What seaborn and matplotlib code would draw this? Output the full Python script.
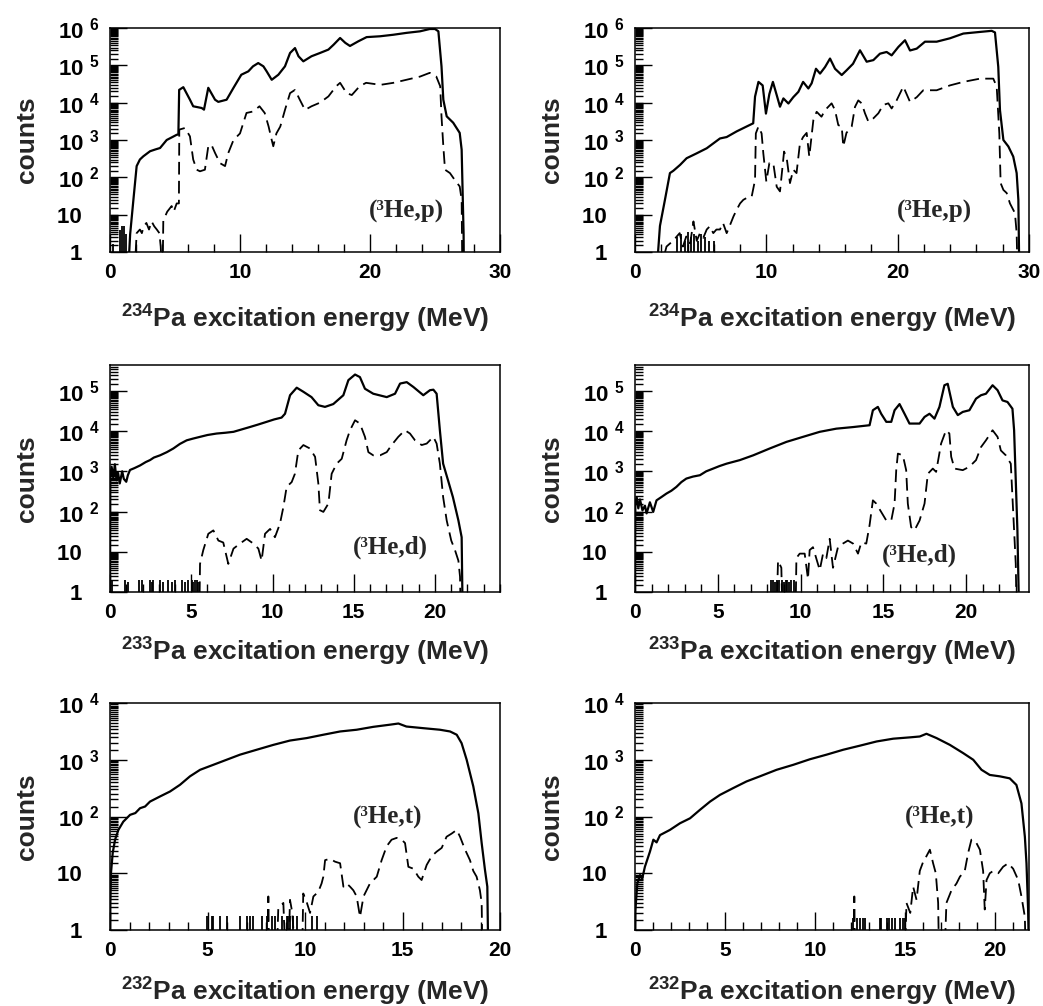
import numpy as np
import matplotlib
matplotlib.use("Agg")
import matplotlib.pyplot as plt
import seaborn as sns
from matplotlib.ticker import FixedLocator, FuncFormatter, MultipleLocator, NullFormatter

# ---------------- data (E in MeV, counts) ----------------
p1_solid = [(1.40, 0.3), (1.55, 3), (1.8, 25), (2.05, 200), (2.3, 300), (2.56, 365), (3.08, 500), (3.5, 560),
            (3.85, 610), (4.36, 1000), (4.8, 1200), (5.13, 1380), (5.26, 1400), (5.32, 22000), (5.64, 26000),
            (6.15, 12000), (6.4, 8000), (7.05, 7200), (7.23, 6500), (7.56, 25000), (8.08, 12000), (8.33, 10500),
            (8.97, 12000), (9.5, 25000), (10.1, 56000), (10.64, 69000), (11.0, 94000), (11.4, 115000),
            (11.8, 94000), (12.05, 69000), (12.44, 41000), (12.95, 56000), (13.46, 94000), (13.85, 214000),
            (14.23, 290000), (14.5, 175000), (14.87, 128000), (15.5, 175000), (16.15, 214000), (16.8, 264000),
            (17.2, 357000), (17.7, 540000), (18.1, 400000), (18.46, 330000), (19.1, 440000), (19.74, 570000),
            (20.77, 600000), (21.8, 660000), (22.8, 740000), (23.85, 815000), (24.6, 940000), (25.0, 940000),
            (25.26, 815000), (25.5, 94000), (25.64, 12000), (25.9, 4300), (26.4, 2900), (26.9, 1550),
            (27.05, 550), (27.2, 3), (27.22, 0.3)]
p1_dash_a = [(1.9, 0.3), (2.05, 3.2), (2.3, 4), (2.45, 3.2), (2.6, 4.9), (2.8, 6), (3.0, 4), (3.2, 6.6),
             (3.4, 4.9), (3.6, 4), (3.8, 3.2), (3.9, 1.4), (4.0, 0.3)]
p1_dash_b = [(4.05, 0.3), (4.1, 7), (4.4, 12), (4.74, 17), (4.9, 12), (5.13, 20), (5.3, 20), (5.33, 1900),
             (5.77, 2100), (6.15, 1250), (6.4, 300), (6.67, 160), (6.92, 145), (7.3, 160), (7.56, 680),
             (7.8, 750), (8.08, 450), (8.46, 240), (8.85, 200), (9.1, 450), (9.5, 1000), (10.0, 1500),
             (10.5, 5300), (11.0, 5800), (11.5, 8000), (11.9, 5300), (12.2, 2300), (12.44, 1000), (12.56, 680),
             (12.8, 1500), (13.1, 2300), (13.46, 6400), (13.85, 18000), (14.23, 22000), (14.6, 12000),
             (15.0, 6400), (15.5, 8000), (16.15, 10000), (16.8, 14700), (17.4, 27500), (17.7, 34000),
             (18.2, 18000), (18.6, 16000), (19.2, 27500), (19.7, 34000), (20.8, 30000), (21.8, 34000),
             (22.8, 41000), (23.85, 50000), (24.6, 63000), (25.1, 50000), (25.4, 27500), (25.5, 4300),
             (25.64, 680), (25.77, 160), (26.15, 130), (26.5, 87), (26.9, 57), (27.05, 25), (27.1, 0.3)]
p1_spikes = [(0.25, 1.6), (0.8, 4), (0.95, 5), (1.1, 5), (1.25, 3)]

p2_solid = [(1.65, 0.3), (1.9, 5), (2.28, 25), (2.66, 130), (2.92, 150), (3.43, 215), (3.93, 325), (4.7, 440),
            (5.46, 600), (5.96, 810), (6.47, 1100), (6.98, 1200), (7.74, 1700), (8.5, 2300), (9.0, 2800),
            (9.14, 14500), (9.4, 36000), (9.72, 29000), (9.97, 5100), (10.23, 17000), (10.5, 36000),
            (10.8, 15500), (11.04, 7800), (11.3, 13000), (11.68, 9500), (12.05, 14000), (12.44, 19500),
            (12.8, 36000), (13.2, 24000), (13.45, 33000), (13.78, 81000), (14.09, 60000), (14.47, 90000),
            (14.85, 152000), (15.23, 81000), (15.74, 55000), (16.1, 73000), (16.6, 110000), (17.13, 253000),
            (17.64, 125000), (18.15, 138000), (18.65, 205000), (19.16, 228000), (19.54, 185000),
            (20.05, 310000), (20.56, 470000), (20.94, 250000), (21.45, 280000), (22.08, 430000),
            (22.97, 430000), (23.98, 530000), (25.0, 710000), (26.27, 785000), (27.16, 840000),
            (27.41, 760000), (27.66, 91000), (27.79, 6300), (28.05, 1000), (28.43, 670), (28.8, 360),
            (29.06, 130), (29.19, 25), (29.26, 0.3)]
p2_dash = [(1.9, 0.3), (2.4, 1.4), (2.9, 2), (3.4, 3.2), (3.65, 1.4), (3.9, 2.6), (4.2, 1.7), (4.45, 6.6),
           (4.7, 2), (4.95, 3.2), (5.2, 2.4), (5.46, 4), (5.7, 4.9), (5.96, 3.2), (6.2, 4), (6.47, 4), (6.7, 6),
           (6.98, 3.2), (7.2, 4.9), (7.5, 9), (7.74, 13.5), (8.0, 20), (8.25, 25), (8.5, 28), (8.88, 30),
           (9.14, 85), (9.2, 1500), (9.4, 2300), (9.64, 1500), (9.77, 440), (10.0, 77), (10.23, 240),
           (10.53, 240), (10.79, 56), (11.04, 42), (11.35, 490), (11.55, 330), (11.8, 70), (12.05, 160),
           (12.3, 130), (12.56, 820), (12.8, 1200), (13.07, 1550), (13.27, 360), (13.58, 3400), (13.83, 5700),
           (14.2, 4200), (14.47, 6300), (14.97, 9600), (15.23, 6300), (15.48, 2500), (15.74, 2300),
           (15.86, 670), (16.1, 1550), (16.5, 2300), (16.75, 7700), (17.0, 11500), (17.26, 9600),
           (17.51, 5200), (17.77, 3100), (18.15, 3800), (18.53, 5200), (18.9, 8700), (19.29, 9600),
           (19.54, 7000), (19.92, 11500), (20.43, 27000), (20.68, 17000), (20.94, 10500), (21.45, 14000),
           (21.95, 21500), (22.97, 21500), (23.98, 29000), (25.0, 36000), (26.27, 44000), (27.28, 44000),
           (27.54, 27000), (27.74, 1500), (27.84, 70), (28.05, 46), (28.3, 38), (28.55, 20), (28.93, 11),
           (29.06, 3.2), (29.12, 0.3)]
p2_spikes = [(3.2, 2.5), (3.5, 3), (3.8, 2), (4.0, 3.5), (4.3, 2.5), (4.5, 3), (4.8, 2), (5.0, 3),
             (5.3, 2.5), (5.6, 2), (6.0, 2)]

p3_solid = [(0.0, 0.3), (0.02, 800), (0.1, 1300), (0.2, 700), (0.3, 1500), (0.4, 600), (0.5, 900),
            (0.6, 500), (0.75, 1000), (0.85, 650), (1.0, 550), (1.1, 800), (1.23, 1080), (1.5, 1200),
            (1.85, 1400), (2.2, 1700), (2.46, 1900), (2.7, 2200), (3.08, 2500), (3.5, 3000), (3.9, 3700),
            (4.3, 4800), (4.72, 5900), (5.1, 6500), (5.54, 7200), (6.0, 8000), (6.56, 8700), (7.1, 9100),
            (7.6, 9600), (8.1, 11000), (8.6, 12600), (9.1, 14500), (9.64, 17000), (10.1, 19500),
            (10.56, 21700), (10.77, 27000), (11.08, 78000), (11.49, 120000), (11.9, 95000), (12.4, 70000),
            (12.82, 44000), (13.23, 40000), (13.74, 47000), (14.36, 78000), (14.67, 185000), (15.08, 255000),
            (15.38, 220000), (15.69, 113000), (16.2, 85000), (17.03, 70000), (17.54, 85000), (17.85, 152000),
            (18.26, 165000), (18.67, 125000), (19.28, 78000), (19.69, 104000), (19.9, 107000), (20.1, 85000),
            (20.3, 10500), (20.5, 1550), (20.8, 600), (21.1, 230), (21.44, 60), (21.64, 23), (21.7, 0.3)]
p3_dash = [(5.5, 0.3), (5.54, 5), (5.74, 11), (6.05, 28), (6.36, 34), (6.67, 19), (6.97, 17), (7.28, 5),
           (7.6, 12), (8.0, 16), (8.41, 21), (8.82, 16), (9.13, 12), (9.33, 6), (9.54, 28), (9.85, 37),
           (10.15, 23), (10.46, 50), (10.67, 130), (10.87, 410), (11.18, 540), (11.38, 870), (11.59, 3300),
           (11.9, 4500), (12.3, 3700), (12.62, 2300), (12.82, 500), (12.92, 108), (13.13, 98), (13.44, 158),
           (13.64, 870), (13.95, 1550), (14.26, 2050), (14.56, 5900), (14.77, 10500), (15.08, 18600),
           (15.38, 15400), (15.69, 7200), (15.9, 3000), (16.2, 2500), (16.62, 2500), (17.03, 3000),
           (17.33, 4500), (17.74, 7200), (18.15, 10500), (18.46, 8700), (18.77, 5900), (19.18, 4500),
           (19.49, 4900), (19.9, 7200), (20.1, 4900), (20.3, 1550), (20.5, 230), (20.72, 60), (21.0, 19),
           (21.23, 11), (21.44, 6), (21.54, 2.4), (21.58, 0.3)]
p3_spikes = [(0.15, 2), (0.92, 2), (1.13, 1.8), (1.8, 2), (1.95, 2), (2.46, 2), (2.56, 1.8), (2.67, 2),
             (3.08, 2), (3.28, 1.8), (3.59, 2), (3.79, 1.8), (3.99, 2), (4.41, 2), (4.62, 1.8), (4.82, 2),
             (5.03, 2), (5.13, 1.8), (5.23, 2), (5.33, 2), (5.44, 1.8)]

p4_solid = [(0.0, 0.3), (0.02, 150), (0.1, 230), (0.2, 120), (0.3, 200), (0.45, 107), (0.6, 140), (0.7, 90),
            (0.9, 170), (1.1, 98), (1.3, 190), (1.6, 230), (1.9, 280), (2.2, 330), (2.5, 410), (2.8, 540),
            (3.1, 660), (3.5, 740), (3.92, 800), (4.3, 1000), (4.72, 1170), (5.1, 1350), (5.53, 1550),
            (6.33, 1900), (7.14, 2500), (8.14, 3700), (9.15, 5400), (10.15, 7200), (11.16, 9600),
            (12.16, 11500), (13.17, 12600), (14.17, 14000), (14.37, 33000), (14.67, 40000), (14.87, 27000),
            (15.18, 17000), (15.48, 17000), (15.68, 33000), (15.98, 47000), (16.28, 27000), (16.58, 15400),
            (17.19, 15400), (17.49, 22500), (17.79, 27000), (18.09, 20400), (18.39, 40000), (18.69, 138000),
            (18.89, 150000), (19.2, 40000), (19.5, 25000), (19.8, 30000), (20.2, 33000), (20.6, 64000),
            (20.9, 78000), (21.2, 85000), (21.6, 138000), (21.9, 104000), (22.2, 58000), (22.5, 53000),
            (22.8, 36000), (22.9, 10500), (23.0, 600), (23.1, 34), (23.2, 0.3)]
p4_dash_a = [(8.55, 0.3), (8.64, 6), (8.84, 4), (8.9, 0.3)]
p4_dash_b = [(9.7, 0.3), (9.75, 7), (9.95, 9), (10.25, 9), (10.45, 2.1), (10.55, 11), (10.75, 13),
             (11.16, 3.5), (11.36, 9), (11.56, 7), (11.76, 21), (11.96, 4), (12.26, 13), (12.56, 16),
             (12.86, 19), (13.17, 16), (13.47, 9), (13.67, 17), (13.97, 16), (14.17, 46), (14.37, 190),
             (14.57, 158), (14.87, 98), (15.18, 60), (15.48, 60), (15.68, 158), (15.78, 1070), (15.88, 2760),
             (16.18, 2500), (16.38, 1070), (16.48, 158), (16.68, 41), (16.88, 34), (17.19, 60), (17.49, 158),
             (17.69, 870), (17.99, 1170), (18.19, 970), (18.49, 4900), (18.79, 10500), (18.99, 8700),
             (19.1, 2300), (19.3, 1170), (19.8, 1070), (20.2, 1300), (20.6, 1900), (20.9, 4000), (21.2, 5900),
             (21.6, 10500), (21.9, 7200), (22.1, 3300), (22.4, 2500), (22.7, 1550), (22.8, 230), (22.9, 34),
             (23.0, 5), (23.05, 0.3)]
p4_spikes = [(8.2, 2), (8.35, 2), (8.45, 1.8), (8.55, 2), (8.7, 2), (8.9, 2), (9.0, 1.8), (9.1, 2),
             (9.2, 2), (9.3, 1.8), (9.45, 2), (9.6, 2)]

p5_solid = [(0.0, 0.3), (0.02, 3), (0.05, 10), (0.14, 23), (0.26, 39), (0.43, 58), (0.68, 81), (1.03, 107),
            (1.3, 115), (1.54, 140), (1.8, 150), (2.05, 183), (2.56, 225), (3.08, 276), (3.59, 362), (4.1, 510),
            (4.62, 665), (5.3, 815), (5.98, 1000), (6.67, 1230), (7.52, 1500), (8.38, 1830), (9.23, 2180),
            (10.09, 2410), (10.94, 2760), (11.8, 3150), (12.65, 3380), (13.5, 3800), (14.36, 4150),
            (14.79, 4350), (15.2, 3850), (16.07, 3600), (16.92, 3380), (17.44, 3150), (17.78, 2760),
            (18.03, 1960), (18.29, 1000), (18.63, 340), (18.89, 114), (19.06, 34), (19.23, 11.4),
            (19.35, 5.8), (19.4, 0.3)]
p5_dash_a = [(8.08, 0.3), (8.12, 3.9), (8.16, 0.3)]
p5_dash_b = [(8.55, 0.3), (8.63, 2.4), (8.89, 3), (9.0, 0.3)]
p5_dash_c = [(9.15, 0.3), (9.23, 3.4), (9.35, 2), (9.5, 0.3)]
p5_dash_d = [(9.85, 0.3), (9.91, 4.4), (10.1, 3), (10.26, 2), (10.43, 3.9), (10.68, 4.7), (10.85, 6.6),
             (10.94, 8.7), (11.03, 17), (11.28, 18), (11.54, 16), (11.8, 15), (11.97, 5.8), (12.14, 6.6),
             (12.31, 5.8), (12.48, 5), (12.65, 3.9), (12.82, 1.7), (13.0, 3.9), (13.33, 6.6), (13.68, 8.7),
             (13.93, 17), (14.19, 30), (14.44, 39), (14.7, 42), (14.96, 39), (15.13, 34), (15.3, 13),
             (15.56, 12), (15.81, 8.7), (15.98, 7.6), (16.24, 14), (16.5, 20), (16.75, 24), (17.01, 28),
             (17.26, 44), (17.52, 50), (17.78, 58), (17.95, 44), (18.21, 26), (18.46, 17), (18.63, 11),
             (18.8, 8.7), (18.97, 5), (19.06, 3), (19.1, 0.3)]
p5_spikes = [(4.96, 1.8), (5.21, 1.8), (5.3, 1.8), (5.64, 1.8), (5.98, 1.8), (6.67, 1.8), (7.0, 1.8),
             (7.18, 1.8), (7.35, 1.8), (7.78, 1.8), (8.03, 1.8), (8.29, 1.8), (8.46, 1.8), (8.8, 1.8),
             (9.06, 1.8), (9.15, 1.8), (9.23, 1.8), (9.4, 1.8), (9.57, 1.8), (10.34, 1.8), (10.6, 1.8)]

p6_solid = [(0.0, 0.3), (0.02, 2), (0.05, 3), (0.13, 6.6), (0.28, 9.3), (0.4, 8), (0.55, 13), (0.83, 24),
            (1.02, 39), (1.2, 35), (1.39, 47), (1.94, 58), (2.5, 76), (3.06, 93), (3.61, 131), (4.17, 183),
            (4.72, 240), (5.46, 317), (6.2, 415), (6.94, 510), (7.87, 665), (8.8, 815), (9.72, 1020),
            (10.65, 1230), (11.57, 1500), (12.5, 1770), (13.43, 2100), (14.35, 2350), (15.28, 2480),
            (15.83, 2570), (16.2, 2870), (16.76, 2410), (17.5, 1830), (18.24, 1310), (18.8, 1000),
            (19.26, 665), (19.72, 540), (20.28, 510), (20.83, 470), (21.2, 360), (21.48, 170), (21.67, 44),
            (21.76, 15), (21.85, 2.3), (21.9, 0.3)]
p6_dash_a = [(12.15, 0.3), (12.19, 3.9), (12.23, 0.3)]
p6_dash_b = [(15.0, 0.3), (15.09, 3), (15.3, 2), (15.46, 5.8), (15.65, 3.4), (15.83, 11), (16.02, 16),
             (16.2, 20), (16.39, 26), (16.57, 15), (16.72, 10), (16.85, 3), (16.9, 0.3)]
p6_dash_c = [(17.2, 0.3), (17.31, 3), (17.59, 5), (17.87, 6.6), (18.06, 8.7), (18.33, 11), (18.52, 23),
             (18.7, 39), (18.83, 39), (18.98, 34), (19.17, 26), (19.35, 11), (19.44, 2.3), (19.54, 7.6),
             (19.72, 10), (19.91, 11), (20.19, 10), (20.46, 13), (20.74, 15), (21.02, 12), (21.3, 7.6),
             (21.48, 3.9), (21.67, 1.7), (21.72, 0.3)]
p6_spikes = [(12.13, 1.6), (12.35, 1.6), (12.5, 1.6), (12.65, 1.6), (12.78, 1.6), (13.61, 1.6), (13.7, 1.6),
             (13.98, 1.6), (14.13, 1.6), (14.26, 1.6), (14.44, 1.6), (14.72, 1.6), (14.9, 1.6), (15.0, 1.6)]

nuclei = ["234", "234", "233", "233", "232", "232"]
reactions = ["(\u00b3He,p)", "(\u00b3He,p)", "(\u00b3He,d)", "(\u00b3He,d)", "(\u00b3He,t)", "(\u00b3He,t)"]

# ---------------- styling ----------------
sns.set_theme(style="white")
plt.rcParams["font.family"] = ["Liberation Sans", "DejaVu Sans"]
plt.rcParams["font.weight"] = "bold"
plt.rcParams["mathtext.fontset"] = "custom"
plt.rcParams["mathtext.rm"] = "Liberation Sans:bold"
plt.rcParams["mathtext.bf"] = "Liberation Sans:bold"
plt.rcParams["mathtext.it"] = "Liberation Sans:bold"
plt.rcParams["axes.edgecolor"] = "black"
plt.rcParams["axes.linewidth"] = 1.1

W, H = 1043, 1006
fig = plt.figure(figsize=(W / 100, H / 100), dpi=100)

cols = [(110, 390), (635, 394)]
rows = [(28, 252), (365, 592), (703, 930)]

panels = [
    dict(solid=[p1_solid], dash=[p1_dash_a, p1_dash_b], spikes=p1_spikes, xlim=30, ytop=1e6, xmaj=10, xmin=2,
         ann=(0.76, 0.18), xlpad=15),
    dict(solid=[p2_solid], dash=[p2_dash], spikes=p2_spikes, xlim=30, ytop=1e6, xmaj=10, xmin=2,
         ann=(0.76, 0.18), xlpad=15),
    dict(solid=[p3_solid], dash=[p3_dash], spikes=p3_spikes, xlim=24, ytop=4.4e5, xmaj=5, xmin=1,
         ann=(0.718, 0.198), xlpad=10),
    dict(solid=[p4_solid], dash=[p4_dash_a, p4_dash_b], spikes=p4_spikes, xlim=23.8, ytop=4.4e5, xmaj=5, xmin=1,
         ann=(0.723, 0.163), xlpad=10),
    dict(solid=[p5_solid], dash=[p5_dash_a, p5_dash_b, p5_dash_c, p5_dash_d], spikes=p5_spikes, xlim=20,
         ytop=1e4, xmaj=5, xmin=1, ann=(0.713, 0.498), xlpad=11),
    dict(solid=[p6_solid], dash=[p6_dash_a, p6_dash_b, p6_dash_c], spikes=p6_spikes, xlim=21.9, ytop=1e4,
         xmaj=5, xmin=1, ann=(0.772, 0.498), xlpad=11),
]


def ylab(v, pos):
    n = int(round(np.log10(v)))
    if n == 0:
        return "1   "
    if n == 1:
        return "10   "
    return "10$^{\\ \\,%d}$" % n


for i, p in enumerate(panels):
    r, c = divmod(i, 2)
    left, width = cols[c]
    top, bottom = rows[r]
    ax = fig.add_axes([left / W, 1 - bottom / H, width / W, (bottom - top) / H])

    for seg in p["solid"]:
        e, y = zip(*seg)
        sns.lineplot(x=list(e), y=list(y), ax=ax, color="black", linewidth=1.6,
                     sort=False, estimator=None)
    for seg in p["dash"]:
        e, y = zip(*seg)
        sns.lineplot(x=list(e), y=list(y), ax=ax, color="black", linewidth=1.3,
                     sort=False, estimator=None, linestyle=(0, (7, 3.5)))
    se, sh = zip(*p["spikes"])
    ax.vlines(se, 1, sh, color="black", linewidth=1.3)

    ax.set_yscale("log")
    ax.set_xlim(0, p["xlim"])
    ax.set_ylim(1, p["ytop"])
    nd = int(np.floor(np.log10(p["ytop"]) + 1e-9))
    ax.yaxis.set_major_locator(FixedLocator([10.0 ** k for k in range(0, nd + 1)]))
    ax.yaxis.set_minor_locator(FixedLocator([m * 10.0 ** k for k in range(0, nd + 1)
                                             for m in np.arange(1.5, 10, 0.5)]))
    ax.yaxis.set_major_formatter(FuncFormatter(ylab))
    ax.yaxis.set_minor_formatter(NullFormatter())
    ax.xaxis.set_major_locator(MultipleLocator(p["xmaj"]))
    ax.xaxis.set_minor_locator(MultipleLocator(p["xmin"]))
    ax.xaxis.set_major_formatter(FuncFormatter(lambda v, pos: "%d" % round(v)))

    ax.tick_params(axis="both", which="both", direction="in", left=True, bottom=True,
                   top=False, right=False, colors="black", width=1.0)
    ax.tick_params(axis="y", which="major", length=12, pad=7, labelsize=16)
    ax.tick_params(axis="y", which="minor", length=5.5)
    ax.tick_params(axis="x", which="major", length=13, pad=8, labelsize=15)
    ax.tick_params(axis="x", which="minor", length=6)
    for lab in ax.get_xticklabels() + ax.get_yticklabels():
        lab.set_fontweight("bold")

    for s in ax.spines.values():
        s.set_visible(True)
        s.set_color("black")

    ax.set_xlabel("$^{%s}$Pa excitation energy (MeV)" % nuclei[i], fontsize=19, fontweight="bold",
                  labelpad=p["xlpad"])
    ax.set_ylabel("counts", fontsize=19, fontweight="bold", labelpad=13)
    ax.text(p["ann"][0], p["ann"][1], reactions[i], transform=ax.transAxes, ha="center", va="center",
            fontsize=18, fontweight="bold", family=["Liberation Serif", "DejaVu Serif"])

fig.savefig("out.png", dpi=100)
